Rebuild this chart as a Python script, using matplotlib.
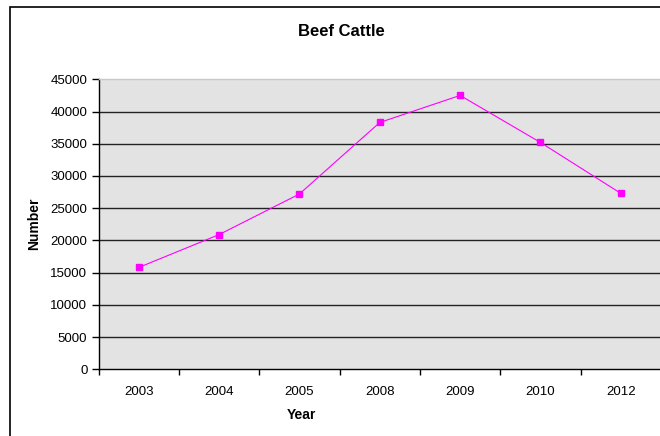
import matplotlib
matplotlib.use("Agg")
import matplotlib.pyplot as plt
from matplotlib.patches import Rectangle
from matplotlib.ticker import FixedLocator, NullFormatter

years = ["2003", "2004", "2005", "2008", "2009", "2010", "2012"]
numbers = [15800, 20900, 27200, 38300, 42500, 35200, 27300]
yticks = list(range(0, 45001, 5000))

plt.rcParams['font.family'] = ['Liberation Sans', 'DejaVu Sans']

W, H = 660, 436
fig = plt.figure(figsize=(W / 100, H / 100), dpi=100)
fig.patch.set_facecolor('white')

# outer chart border (continues beyond the right and bottom edges)
fig.add_artist(Rectangle((10 / W, -0.05), 1 - 10 / W + 0.05, 1.05 - 7 / H,
                         transform=fig.transFigure, fill=False,
                         edgecolor='black', linewidth=1.2, zorder=0))

left, right, top, bottom = 98.5, 661, 79.3, 369.3
ax = fig.add_axes([left / W, 1 - bottom / H, (right - left) / W, (bottom - top) / H])
ax.set_facecolor('#E3E3E3')

x = list(range(len(years)))
ax.set_xlim(-0.5, len(years) - 0.5)
ax.set_ylim(0, 45000)

for v in yticks[1:-1]:
    ax.axhline(v, color='#222222', linewidth=1.0, zorder=1)

ax.plot(x, numbers, color='#FF00FF', linewidth=0.8, marker='s',
        markersize=4.5, markerfacecolor='#FF00FF', markeredgecolor='#FF00FF', zorder=3)

ax.set_yticks(yticks)
ax.set_yticklabels([str(v) for v in yticks], fontsize=9.5)
ax.set_xticks(x)
ax.set_xticklabels(years, fontsize=9.5)
ax.tick_params(axis='x', length=0, pad=12)
ax.xaxis.set_minor_locator(FixedLocator([i - 0.5 for i in range(len(years) + 1)]))
ax.xaxis.set_minor_formatter(NullFormatter())
ax.tick_params(axis='x', which='minor', length=4, width=1, color='black', direction='out')
ax.tick_params(axis='y', length=5, width=1, color='black', direction='out', pad=3)

ax.spines['right'].set_visible(False)
ax.spines['top'].set_color('#C8C8C8')
ax.spines['top'].set_linewidth(1.0)
ax.spines['left'].set_color('black')
ax.spines['bottom'].set_color('black')
ax.spines['left'].set_linewidth(1.0)
ax.spines['bottom'].set_linewidth(1.0)

fig.text(341 / W, 1 - 32 / H, "Beef Cattle", ha='center', va='center',
         fontsize=12, fontweight='bold')
fig.text(301 / W, 1 - 415 / H, "Year", ha='center', va='center',
         fontsize=10, fontweight='bold')
fig.text(34 / W, 1 - 224 / H, "Number", ha='center', va='center',
         fontsize=10, fontweight='bold', rotation=90)

fig.savefig("out.png", dpi=100)
